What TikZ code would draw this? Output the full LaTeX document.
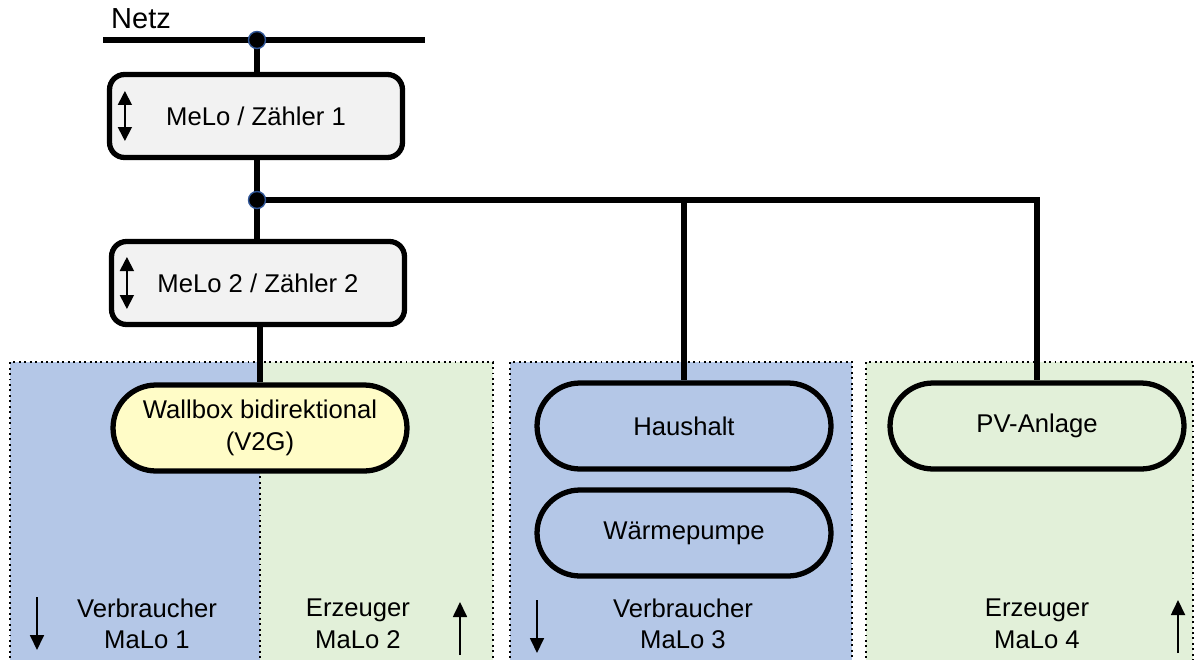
\documentclass[tikz,border=0pt]{standalone}
\usepackage{fontspec}
\setmainfont{Liberation Sans}
\usetikzlibrary{calc}
\usetikzlibrary{arrows.meta}
\usetikzlibrary{positioning}

\definecolor{vblau}{HTML}{B4C7E7}
\definecolor{egruen}{HTML}{E2F0D9}
\definecolor{wbgelb}{HTML}{FFFCC7}
\definecolor{zgrau}{HTML}{F2F2F2}
\definecolor{punktrand}{HTML}{2F5597}

\tikzset{
 zaehler/.style={draw, line width=3pt, rounded corners=0.3cm, fill=zgrau, minimum width=5.86cm, minimum height=1.66cm},
 anlage/.style={draw, line width=3pt, rounded corners=0.86cm, minimum width=5.88cm, minimum height=1.72cm, align=center},
 knoten/.style={circle, fill=black, draw=punktrand, line width=0.8pt, inner sep=0pt, minimum size=0.34cm},
 leitung/.style={line width=2.9pt},
 zone/.style={dotted, line width=1.1pt},
 pfeil/.style={line width=1pt, -{Triangle[length=0.3cm, width=0.28cm]}},
 doppelpfeil/.style={line width=1pt, {Triangle[length=0.28cm, width=0.28cm]}-{Triangle[length=0.28cm, width=0.28cm]}},
 malo/.style={align=center},
}

\begin{document}
\begin{tikzpicture}[x=0.02cm, y=-0.02cm,
  every node/.style={font=\fontsize{14.6}{18}\selectfont}]
\clip (0,0) rectangle (1195,659);

% Marktlokationen
\foreach \xa/\xb/\farbe in {10/260/vblau, 260/493/egruen, 510/852/vblau, 866/1193/egruen} {
 \fill[\farbe] (\xa,362) rectangle (\xb,680);
}
\foreach \xa/\xb in {10/493, 510/852, 866/1193} {
 \draw[zone] (\xa,680) |- (\xb,362) -- (\xb,680);
}
\draw[zone] (260,362) -- (260,680);

% Netz und Zaehler
\coordinate (netzL) at (103,40);
\coordinate (netzR) at (425,40);
\node[anchor=base west, font=\fontsize{16.5}{19}\selectfont] (netz) at (105,29) {Netz};
\node[zaehler] (z1) at (256,116) {MeLo / Zähler 1};
\node[zaehler] (z2) at (258,283) {MeLo 2 / Zähler 2};

% Anlagen
\node[anlage, fill=wbgelb] (wb) at (260,428) {Wallbox bidirektional\\(V2G)};
\node[anlage, fill=vblau] (hh) at (684,426) {Haushalt};
\node[anlage, fill=vblau] (wp) at (684,533) {Wärmepumpe};
\node[anlage, fill=egruen] (pv) at (1037,426) {PV-Anlage};

% Leitungen
\draw[leitung] (netzL) -- (netzR);
\coordinate (k1pos) at (257,40);
\coordinate (k2pos) at (257,200);
\draw[leitung] (k1pos) -- (k1pos |- z1.north);
\draw[leitung] (k1pos |- z1.south) -- (k2pos) -- (k2pos |- z2.north);
\draw[leitung] (k2pos) -| (hh.north);
\draw[leitung] (k2pos) -| (pv.north);
\draw[leitung] (z2.south -| wb.north) -- (wb.north);
\node[knoten] (k1) at (k1pos) {};
\node[knoten] (k2) at (k2pos) {};

% Richtungen
\draw[doppelpfeil] ($(z1.west)+(18,-25)$) -- ($(z1.west)+(18,25)$);
\draw[doppelpfeil] ($(z2.west)+(18,-26)$) -- ($(z2.west)+(18,26)$);

\node[malo] (v1) at (147,624) {Verbraucher\\MaLo 1};
\node[malo] (e2) at (358,624) {Erzeuger\\MaLo 2};
\node[malo] (v3) at (683,624) {Verbraucher\\MaLo 3};
\node[malo] (e4) at (1037,624) {Erzeuger\\MaLo 4};
\draw[pfeil] (37,597) -- (37,650);
\draw[pfeil] (460,655) -- (460,602);
\draw[pfeil] (537,600) -- (537,653);
\draw[pfeil] (1178,653) -- (1178,600);
\end{tikzpicture}
\end{document}
